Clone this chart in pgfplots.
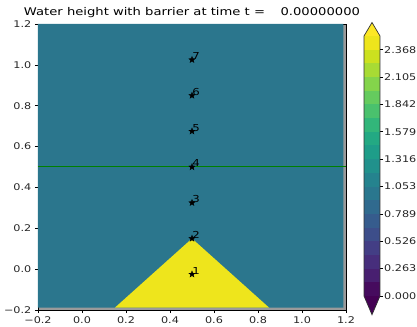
\documentclass[border=0pt]{standalone}
\usepackage{pgfplots}
\pgfplotsset{compat=1.18}
\usepackage{graphicx}
\usepackage{fontspec}
\setmainfont{DejaVu Sans}
\definecolor{teal}{HTML}{2B768D}
\definecolor{tri}{HTML}{EEE51C}
\definecolor{stripgray}{HTML}{9A9A9A}
\definecolor{mplgreen}{HTML}{008000}
\definecolor{cunder}{HTML}{440154}
\definecolor{cover}{HTML}{FDE725}
\definecolor{ca}{HTML}{460B5E}
\definecolor{cb}{HTML}{481F70}
\definecolor{cc}{HTML}{472E7C}
\definecolor{cd}{HTML}{433E85}
\definecolor{ce}{HTML}{3D4E8A}
\definecolor{cf}{HTML}{365C8D}
\definecolor{cg}{HTML}{306A8E}
\definecolor{ch}{HTML}{2A778E}
\definecolor{ci}{HTML}{25838E}
\definecolor{cj}{HTML}{21918C}
\definecolor{ck}{HTML}{1E9D89}
\definecolor{cl}{HTML}{23A983}
\definecolor{cm}{HTML}{32B67A}
\definecolor{cn}{HTML}{4AC16D}
\definecolor{co}{HTML}{65CB5E}
\definecolor{cp}{HTML}{84D44B}
\definecolor{cq}{HTML}{A8DB34}
\definecolor{cr}{HTML}{CCE11F}
\definecolor{cs}{HTML}{EEE51C}
\pgfdeclareplotmark{fstar}{%
  \pgfpathmoveto{\pgfpointpolar{90}{\pgfplotmarksize}}%
  \pgfpathlineto{\pgfpointpolar{126}{0.4\pgfplotmarksize}}%
  \pgfpathlineto{\pgfpointpolar{162}{\pgfplotmarksize}}%
  \pgfpathlineto{\pgfpointpolar{198}{0.4\pgfplotmarksize}}%
  \pgfpathlineto{\pgfpointpolar{234}{\pgfplotmarksize}}%
  \pgfpathlineto{\pgfpointpolar{270}{0.4\pgfplotmarksize}}%
  \pgfpathlineto{\pgfpointpolar{306}{\pgfplotmarksize}}%
  \pgfpathlineto{\pgfpointpolar{342}{0.4\pgfplotmarksize}}%
  \pgfpathlineto{\pgfpointpolar{18}{\pgfplotmarksize}}%
  \pgfpathlineto{\pgfpointpolar{54}{0.4\pgfplotmarksize}}%
  \pgfpathclose\pgfusepathqfillstroke}
\newcommand{\tickfont}{\fontsize{9.2bp}{11bp}\selectfont}
\newcommand{\sx}[1]{\scalebox{1.22}[1]{#1}}
\begin{document}
\begin{tikzpicture}
\path[use as bounding box] (0,0) rectangle (417bp,327bp);
\begin{axis}[
  at={(38bp,17bp)}, anchor=south west,
  scale only axis, width=308bp, height=286bp,
  xmin=-0.2, xmax=1.2, ymin=-0.2, ymax=1.2,
  axis background/.style={fill=stripgray},
  axis line style={black, line width=0.7bp},
  tick pos=left, tick align=outside,
  major tick length=3.2bp,
  tick style={black, line width=0.7bp},
  xtick={-0.2,0,0.2,0.4,0.6,0.8,1.0,1.2},
  xticklabels={\sx{−0.2},\sx{0.0},\sx{0.2},\sx{0.4},\sx{0.6},\sx{0.8},\sx{1.0},\sx{1.2}},
  ytick={-0.2,0,0.2,0.4,0.6,0.8,1.0,1.2},
  yticklabels={\sx{−0.2},\sx{0.0},\sx{0.2},\sx{0.4},\sx{0.6},\sx{0.8},\sx{1.0},\sx{1.2}},
  ticklabel style={font=\tickfont, text=black!85},
  every axis title shift=0pt,
  title={\scalebox{1.24}[1]{Water height with barrier at time t =\hspace{12.5bp}0.00000000}},
  title style={at={(0.5,1)}, anchor=base, yshift=8bp, inner sep=0pt,
    font=\fontsize{10.6bp}{12bp}\selectfont},
  clip=true,
]
\addplot[fill=teal, draw=none] coordinates {(-0.2,-0.188) (1.188,-0.188) (1.188,1.2) (-0.2,1.2) (-0.2,-0.188)};
\addplot[fill=tri, draw=none] coordinates {(0.15,-0.188) (0.5,0.15) (0.85,-0.188) (0.15,-0.188)};
\addplot[mplgreen, line width=1bp] coordinates {(-0.2,0.5) (1.2,0.5)};
\addplot[only marks, mark=fstar, mark size=3.3bp, black,
  nodes near coords={\sx{\pgfplotspointmeta}}, point meta=explicit symbolic,
  nodes near coords style={anchor=base west, inner sep=0pt, black,
    font=\fontsize{9.6bp}{11bp}\selectfont, xshift=0.3bp}]
  table[meta=lab] {
x y lab
0.5 -0.025 1
0.5 0.150 2
0.5 0.325 3
0.5 0.500 4
0.5 0.675 5
0.5 0.850 6
0.5 1.025 7
};
\end{axis}
\begin{axis}[
  at={(364bp,31bp)}, anchor=south west,
  scale only axis, width=16bp, height=260bp,
  xmin=0, xmax=1, ymin=0, ymax=2.5,
  clip=false,
  axis line style={draw=none},
  xtick=\empty,
  ytick pos=right, yticklabel pos=right, tick align=outside,
  major tick length=3.2bp,
  tick style={black, line width=0.7bp},
  ytick={0,0.26316,0.52632,0.78947,1.05263,1.31579,1.57895,1.84211,2.10526,2.36842},
  yticklabels={\sx{0.000},\sx{0.263},\sx{0.526},\sx{0.789},\sx{1.053},\sx{1.316},\sx{1.579},\sx{1.842},\sx{2.105},\sx{2.368}},
  ticklabel style={font=\tickfont, text=black!85},
  yticklabel style={xshift=-2.5bp},
]
\addplot[fill=cunder, draw=none] coordinates {(0,0) (1,0) (0.5,-0.18) (0,0)};
\addplot[fill=cover, draw=none] coordinates {(0,2.5) (1,2.5) (0.5,2.63) (0,2.5)};
\addplot[fill=ca, draw=none] coordinates {(0,0) (1,0) (1,0.13158) (0,0.13158)};
\addplot[fill=cb, draw=none] coordinates {(0,0.13158) (1,0.13158) (1,0.26316) (0,0.26316)};
\addplot[fill=cc, draw=none] coordinates {(0,0.26316) (1,0.26316) (1,0.39474) (0,0.39474)};
\addplot[fill=cd, draw=none] coordinates {(0,0.39474) (1,0.39474) (1,0.52632) (0,0.52632)};
\addplot[fill=ce, draw=none] coordinates {(0,0.52632) (1,0.52632) (1,0.65789) (0,0.65789)};
\addplot[fill=cf, draw=none] coordinates {(0,0.65789) (1,0.65789) (1,0.78947) (0,0.78947)};
\addplot[fill=cg, draw=none] coordinates {(0,0.78947) (1,0.78947) (1,0.92105) (0,0.92105)};
\addplot[fill=ch, draw=none] coordinates {(0,0.92105) (1,0.92105) (1,1.05263) (0,1.05263)};
\addplot[fill=ci, draw=none] coordinates {(0,1.05263) (1,1.05263) (1,1.18421) (0,1.18421)};
\addplot[fill=cj, draw=none] coordinates {(0,1.18421) (1,1.18421) (1,1.31579) (0,1.31579)};
\addplot[fill=ck, draw=none] coordinates {(0,1.31579) (1,1.31579) (1,1.44737) (0,1.44737)};
\addplot[fill=cl, draw=none] coordinates {(0,1.44737) (1,1.44737) (1,1.57895) (0,1.57895)};
\addplot[fill=cm, draw=none] coordinates {(0,1.57895) (1,1.57895) (1,1.71053) (0,1.71053)};
\addplot[fill=cn, draw=none] coordinates {(0,1.71053) (1,1.71053) (1,1.84211) (0,1.84211)};
\addplot[fill=co, draw=none] coordinates {(0,1.84211) (1,1.84211) (1,1.97368) (0,1.97368)};
\addplot[fill=cp, draw=none] coordinates {(0,1.97368) (1,1.97368) (1,2.10526) (0,2.10526)};
\addplot[fill=cq, draw=none] coordinates {(0,2.10526) (1,2.10526) (1,2.23684) (0,2.23684)};
\addplot[fill=cr, draw=none] coordinates {(0,2.23684) (1,2.23684) (1,2.36842) (0,2.36842)};
\addplot[fill=cs, draw=none] coordinates {(0,2.36842) (1,2.36842) (1,2.5) (0,2.5)};
\addplot[draw=black!80, line width=0.7bp, fill=none] coordinates {(0,0) (0.5,-0.18) (1,0) (1,2.5) (0.5,2.63) (0,2.5) (0,0)};
\end{axis}
\end{tikzpicture}
\end{document}
